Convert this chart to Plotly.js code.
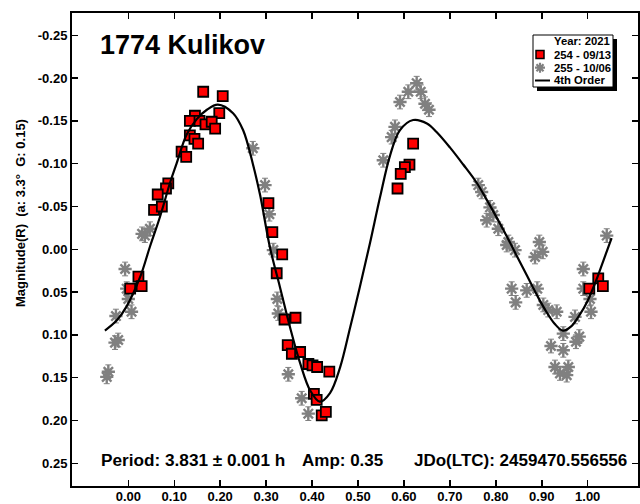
<!DOCTYPE html>
<html><head><meta charset="utf-8">
<script src="https://cdn.plot.ly/plotly-3.0.1.min.js"></script>
<style>html,body{margin:0;padding:0;background:#fff}#chart{width:640px;height:504px}</style>
</head><body><div id="chart"></div>
<script>
// ---- data ----
const seriesNames = ['254 - 09/13', '255 - 10/06', '4th Order'];
const legendTitle = 'Year: 2021';
const chartTitle = '1774 Kulikov';
const infoTexts = ['Period: 3.831 ± 0.001 h', 'Amp: 0.35', 'JDo(LTC): 2459470.556556'];
const yAxisTitle = 'Magnitude(R)\u00a0\u00a0(a: 3.3°\u00a0\u00a0G: 0.15)';

const redX = [0.163, 0.2055, 0.198, 0.145, 0.134, 0.155, 0.168, 0.1815, 0.189, 0.134, 0.144, 0.152, 0.116, 0.126,
  0.087, 0.082, 0.064, 0.056, 0.073, 0.022, 0.029, 0.004,
  0.305, 0.3135, 0.335, 0.323, 0.340, 0.364, 0.347, 0.356, 0.374, 0.392, 0.401, 0.411, 0.4375,
  0.404, 0.410, 0.421, 0.430,
  0.620, 0.612, 0.602, 0.593, 0.586,
  1.023, 1.033, 1.0035];
const redY = [-0.184, -0.179, -0.159, -0.156, -0.150, -0.150, -0.146, -0.149, -0.141, -0.133, -0.129, -0.1235, -0.114, -0.108,
  -0.077, -0.071, -0.064, -0.046, -0.050, 0.032, 0.043, 0.046,
  -0.054, -0.020, 0.006, 0.028, 0.082, 0.080, 0.112, 0.122, 0.120, 0.134, 0.1355, 0.1375, 0.143,
  0.169, 0.176, 0.194, 0.190,
  -0.1235, -0.099, -0.096, -0.088, -0.071,
  0.034, 0.043, 0.046];

const grayX = [0.047, 0.036, 0.030, -0.007, -0.0035, 0.000, 0.007, -0.027, -0.022, -0.029, -0.0435, -0.047,
  0.271, 0.2976, 0.307, 0.3157, 0.3244, 0.3265, 0.3483, 0.3774, 0.3918,
  0.555, 0.5733, 0.5805, 0.5914, 0.6095, 0.6277, 0.6365, 0.6458, 0.6545,
  0.7618, 0.7692, 0.7801, 0.7873, 0.7945, 0.8054, 0.8237, 0.8272, 0.8418, 0.8345, 0.8432, 0.8672,
  0.8853, 0.8947, 0.902, 0.8903, 0.9034, 0.9142, 0.9325, 0.9201, 0.9469, 0.9469, 0.9288, 0.9397, 0.9543, 0.9578,
  0.9724, 0.9817, 0.9745, 0.9904, 0.9904, 1.005, 1.0072, 1.0414];
const grayY = [-0.024, -0.016, -0.018, 0.023, 0.046, 0.058, 0.073, 0.078, 0.106, 0.109, 0.143, 0.149,
  -0.118, -0.075, -0.041, 0.001, 0.058, 0.075, 0.146, 0.174, 0.192,
  -0.104, -0.131, -0.143, -0.172, -0.184, -0.194, -0.184, -0.170, -0.163,
  -0.075, -0.067, -0.034, -0.049, -0.040, -0.024, -0.005, -0.0085, 0.001, 0.046, 0.062, 0.048,
  0.009, -0.0085, 0.003, 0.046, 0.065, 0.071, 0.073, 0.113, 0.0985, 0.118, 0.1375, 0.145, 0.147, 0.1375,
  0.079, 0.102, 0.108, 0.023, 0.046, 0.058, 0.073, -0.016];

const fitX = [-0.051, -0.025, -0.004, 0.026, 0.047, 0.069, 0.091, 0.105, 0.127, 0.149, 0.171, 0.195, 0.228, 0.250,
  0.271, 0.287, 0.308, 0.330, 0.352, 0.374, 0.396, 0.417, 0.439, 0.461, 0.483, 0.504, 0.526, 0.548, 0.570,
  0.591, 0.620, 0.650, 0.671, 0.700, 0.729, 0.758, 0.780, 0.802, 0.824, 0.846, 0.868, 0.890, 0.910, 0.928,
  0.946, 0.964, 0.982, 1.000, 1.018, 1.035, 1.052];
const fitY = [0.095, 0.083, 0.067, 0.032, -0.003, -0.038, -0.078, -0.100, -0.134, -0.152, -0.163, -0.169, -0.159, -0.139,
  -0.100, -0.063, -0.003, 0.044, 0.091, 0.133, 0.165, 0.178, 0.168, 0.138, 0.091, 0.044, -0.007, -0.061, -0.110,
  -0.139, -0.151, -0.147, -0.137, -0.119, -0.099, -0.078, -0.058, -0.037, -0.015, 0.008, 0.031, 0.054, 0.073, 0.087,
  0.095, 0.090, 0.077, 0.060, 0.037, 0.012, -0.013];

const xTickVals = [0, 0.1, 0.2, 0.3, 0.4, 0.5, 0.6, 0.7, 0.8, 0.9, 1.0];
const xTickText = ['0.00', '0.10', '0.20', '0.30', '0.40', '0.50', '0.60', '0.70', '0.80', '0.90', '1.00'];
const yTickVals = [-0.25, -0.20, -0.15, -0.10, -0.05, 0, 0.05, 0.10, 0.15, 0.20, 0.25];
const yTickText = ['-0.25', '-0.20', '-0.15', '-0.10', '-0.05', '0.00', '0.05', '0.10', '0.15', '0.20', '0.25'];

// ---- layout helpers ----
const W = 640, H = 504, ML = 72, MR = 2, MT = 13, MB = 18;
const PW = W - ML - MR, PH = H - MT - MB;
const px = v => (v - ML) / PW;
const py = v => (H - MB - v) / PH;
const FONT = 'Liberation Sans, Arial, sans-serif';
const RED = '#ff0000', GRAY = '#808080';

const traces = [
  { x: grayX, y: grayY, type: 'scatter', mode: 'markers', name: seriesNames[1], showlegend: false,
    marker: { symbol: 'asterisk-open', size: 11, color: GRAY, line: { color: GRAY, width: 2.4 } },
    error_y: { type: 'constant', value: 0.008, color: GRAY, thickness: 1, width: 3 } },
  { x: redX, y: redY, type: 'scatter', mode: 'markers', name: seriesNames[0], showlegend: false,
    marker: { symbol: 'square', size: 10, color: RED, line: { color: '#000', width: 1.8 } } },
  { x: fitX, y: fitY, type: 'scatter', mode: 'lines', name: seriesNames[2], showlegend: false,
    line: { color: '#000', width: 2.2, shape: 'spline', smoothing: 1 } }
];

// custom compact legend (box + shadow + keys)
const LX0 = 533, LX1 = 613, LY0 = 35, LY1 = 87, SH = 4;
const ak = (cx, cy, r) => {
  const d = r * 0.707;
  const P = (a, b) => px(a).toFixed(5) + ',' + py(b).toFixed(5);
  return 'M' + P(cx - r, cy) + 'L' + P(cx + r, cy) + 'M' + P(cx, cy - r) + 'L' + P(cx, cy + r) +
    'M' + P(cx - d, cy - d) + 'L' + P(cx + d, cy + d) + 'M' + P(cx - d, cy + d) + 'L' + P(cx + d, cy - d);
};
const shapes = [
  { type: 'rect', xref: 'paper', yref: 'paper', layer: 'above', x0: px(LX0 + SH), x1: px(LX1 + SH), y0: py(LY1 + SH), y1: py(LY0 + SH),
    fillcolor: '#000', line: { width: 0 } },
  { type: 'rect', xref: 'paper', yref: 'paper', layer: 'above', x0: px(LX0), x1: px(LX1), y0: py(LY1), y1: py(LY0),
    fillcolor: '#fff', line: { color: '#000', width: 1 } },
  { type: 'rect', xref: 'paper', yref: 'paper', layer: 'above', x0: px(536), x1: px(544), y0: py(58.5), y1: py(50.5),
    fillcolor: RED, line: { color: '#000', width: 1.5 } },
  { type: 'path', xref: 'paper', yref: 'paper', layer: 'above', path: ak(540, 67.7, 5), line: { color: GRAY, width: 2.2 } },
  { type: 'line', xref: 'paper', yref: 'paper', layer: 'above', x0: px(535), x1: px(550), y0: py(80.5), y1: py(80.5),
    line: { color: '#000', width: 2 } }
];

const legFont = { family: FONT, size: 11.3, color: '#000', weight: 'bold' };
const annotations = [
  { text: chartTitle, xref: 'paper', yref: 'paper', x: px(98), y: py(45), xanchor: 'left', yanchor: 'middle', showarrow: false,
    font: { family: FONT, size: 27, color: '#000', weight: 'bold' } },
  { text: yAxisTitle, xref: 'paper', yref: 'paper', x: px(20), y: py(213), xanchor: 'center', yanchor: 'middle', textangle: -90, showarrow: false,
    font: { family: FONT, size: 13, color: '#000', weight: 'bold' } },
  { text: infoTexts[0], xref: 'paper', yref: 'paper', x: px(99), y: py(460), xanchor: 'left', yanchor: 'middle', showarrow: false,
    font: { family: FONT, size: 17.2, color: '#000', weight: 'bold' } },
  { text: infoTexts[1], xref: 'paper', yref: 'paper', x: px(300), y: py(460), xanchor: 'left', yanchor: 'middle', showarrow: false,
    font: { family: FONT, size: 17, color: '#000', weight: 'bold' } },
  { text: infoTexts[2], xref: 'paper', yref: 'paper', x: px(628.5), y: py(460), xanchor: 'right', yanchor: 'middle', showarrow: false,
    font: { family: FONT, size: 17, color: '#000', weight: 'bold' } },
  { text: legendTitle, xref: 'paper', yref: 'paper', x: px(551.5), y: py(41), xanchor: 'left', yanchor: 'middle', showarrow: false, font: legFont },
  { text: seriesNames[0], xref: 'paper', yref: 'paper', x: px(551.5), y: py(54.5), xanchor: 'left', yanchor: 'middle', showarrow: false, font: legFont },
  { text: seriesNames[1], xref: 'paper', yref: 'paper', x: px(551.5), y: py(67.7), xanchor: 'left', yanchor: 'middle', showarrow: false, font: legFont },
  { text: seriesNames[2], xref: 'paper', yref: 'paper', x: px(551.5), y: py(80.5), xanchor: 'left', yanchor: 'middle', showarrow: false, font: legFont }
];

const tickFont = { family: FONT, size: 13, color: '#000', weight: 'bold' };
const axisCommon = { showgrid: false, zeroline: false, showline: true, linecolor: '#000', linewidth: 2, mirror: 'ticks',
  ticks: 'inside', ticklen: 6, tickwidth: 1.5, tickcolor: '#000', tickfont: tickFont };

const layout = {
  width: W, height: H, margin: { l: ML, r: MR, t: MT, b: MB, pad: 0 },
  paper_bgcolor: '#fff', plot_bgcolor: '#fff', showlegend: false,
  xaxis: Object.assign({}, axisCommon, { range: [-0.1226, 1.1095], tickmode: 'array', tickvals: xTickVals, ticktext: xTickText,
    ticklabelstandoff: -3 }),
  yaxis: Object.assign({}, axisCommon, { range: [0.2765, -0.276], tickmode: 'array', tickvals: yTickVals, ticktext: yTickText }),
  shapes: shapes, annotations: annotations
};

Plotly.newPlot('chart', traces, layout, { staticPlot: true, displayModeBar: false });
</script>
</body></html>
